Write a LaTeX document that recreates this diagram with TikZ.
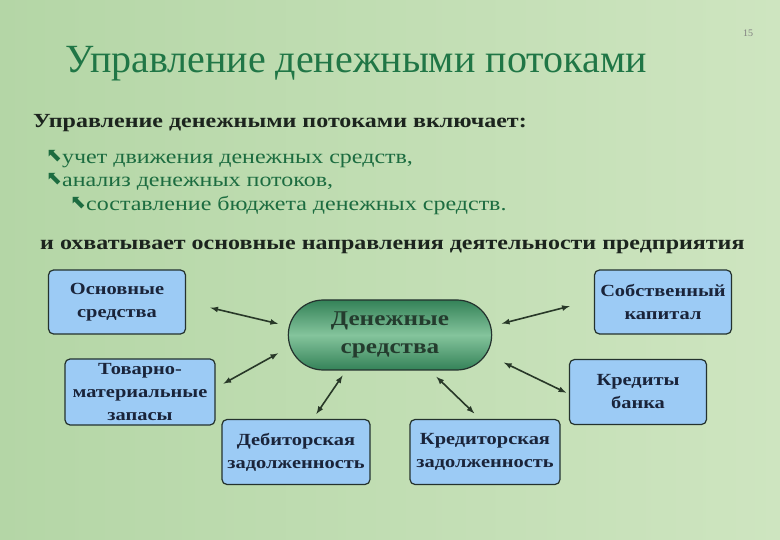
\documentclass[tikz,border=0pt]{standalone}
\usepackage{fontspec}
\setmainfont{Liberation Serif}
\newfontfamily\symfont{DejaVu Sans}
\newfontfamily\widefont[FakeStretch=1.2]{Liberation Serif}
\newcommand{\strelka}{\raisebox{2pt}{\symfont\fontsize{19}{19}\selectfont ⬉}}
\usetikzlibrary{arrows,shapes,positioning}

\definecolor{bgleft}{RGB}{180,214,166}
\definecolor{bgright}{RGB}{206,229,192}
\definecolor{titlegreen}{RGB}{32,118,70}
\definecolor{listgreen}{RGB}{28,108,64}
\definecolor{headdark}{RGB}{28,36,30}
\definecolor{boxfill}{RGB}{156,203,245}
\definecolor{boxline}{RGB}{36,50,46}
\definecolor{boxtext}{RGB}{26,36,58}
\definecolor{arrowcol}{RGB}{40,56,40}
\definecolor{dengreen}{RGB}{52,130,88}
\definecolor{denlight}{RGB}{132,196,156}
\definecolor{dentext}{RGB}{36,60,46}

\begin{document}
\begin{tikzpicture}[
  x=1pt, y=-1pt,
  >=latex,
  sredstvo/.style={draw=boxline, fill=boxfill, line width=1.2pt, rounded corners=5pt,
    align=center, text=boxtext, font=\widefont\bfseries\fontsize{17}{23}\selectfont,
    minimum width=137pt, minimum height=64pt, inner sep=1pt},
  potok/.style={<->, draw=arrowcol, line width=1.6pt},
  stroka/.style={anchor=base west, inner sep=0pt},
  ]
  \shade[left color=bgleft, right color=bgright] (0,0) rectangle (780,540);
  \useasboundingbox (0,0) rectangle (780,540);

  % page number and title
  \node[stroka, text=gray, font=\fontsize{10}{12}\selectfont] (num) at (743,37) {15};
  \node[stroka, text=titlegreen, font=\fontsize{40}{44}\selectfont] (title) at (65,73) {Управление денежными потоками};

  % text lines
  \node[stroka, text=headdark, font=\widefont\bfseries\fontsize{20}{24}\selectfont] (incl) at (33,128) {Управление денежными потоками включает:};
  \node[stroka, text=listgreen, font=\widefont\fontsize{20}{24}\selectfont] (p1) at (46,164) {\strelka учет движения денежных средств,};
  \node[stroka, text=listgreen, font=\widefont\fontsize{20}{24}\selectfont] (p2) at (46,187) {\strelka анализ денежных потоков,};
  \node[stroka, text=listgreen, font=\widefont\fontsize{20}{24}\selectfont] (p3) at (70,211) {\strelka составление бюджета денежных средств.};
  \node[stroka, text=headdark, font=\widefont\bfseries\fontsize{20}{24}\selectfont] (napr) at (40,250) {и охватывает основные направления деятельности предприятия};

  % centre
  \node[rounded rectangle, draw=boxline, line width=1.2pt, top color=dengreen, bottom color=dengreen, middle color=denlight,
    minimum width=210pt, minimum height=70pt, align=center, text=dentext,
    font=\widefont\bfseries\fontsize{21}{28}\selectfont] (den) at (390,335) {Денежные\\средства};

  % boxes
  \node[sredstvo] (osn) at (117,302) {Основные\\средства};
  \node[sredstvo, minimum width=150pt, minimum height=66pt] (tov) at (140,392) {Товарно-\\материальные\\запасы};
  \node[sredstvo, minimum width=148pt, minimum height=65pt] (deb) at (296,452) {Дебиторская\\задолженность};
  \node[sredstvo, minimum width=150pt, minimum height=65pt] (kred) at (485,452) {Кредиторская\\задолженность};
  \node[sredstvo, minimum height=65pt] (bank) at (638,392) {Кредиты\\банка};
  \node[sredstvo] (sobst) at (663,302) {Собственный\\капитал};

  \draw[potok, shorten <=25pt, shorten >=10pt] (osn.east) -- ([yshift=9pt]den.west);
  \draw[potok, shorten <=9pt, shorten >=11pt] ([yshift=4pt]tov.east) -- ([yshift=-13pt]den.west);
  \draw[potok, shorten <=6pt, shorten >=6pt] ([xshift=17pt]deb.north) -- ([xshift=-44pt]den.south);
  \draw[potok, shorten <=8pt, shorten >=9pt] ([xshift=-5pt]kred.north) -- ([xshift=40pt]den.south);
  \draw[potok, shorten <=13pt, shorten >=3pt] ([yshift=-22pt]den.east) -- ([yshift=-2pt]bank.west);
  \draw[potok, shorten <=10pt, shorten >=25pt] ([yshift=9pt]den.east) -- ([yshift=2pt]sobst.west);

\end{tikzpicture}
\end{document}
